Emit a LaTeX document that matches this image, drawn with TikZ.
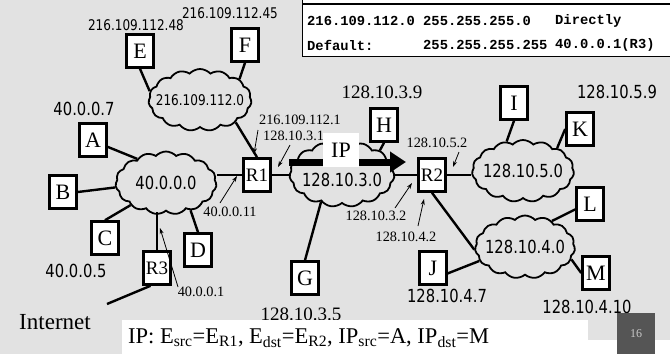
\documentclass[tikz,border=0pt]{standalone}
\usepackage{fontspec}
\setmainfont{Liberation Serif}
\newfontfamily\lblf{DejaVu Sans}[FakeStretch=0.82]
\newfontfamily\monof{Liberation Mono}
\usetikzlibrary{shapes.symbols,arrows.meta}
\definecolor{bgc}{RGB}{226,226,226}
\definecolor{pagebox}{RGB}{85,85,85}
\definecolor{pagetxt}{RGB}{200,200,200}
\tikzset{
  host/.style={draw, line width=2.6pt, fill=white, minimum width=27pt, minimum height=33pt, inner sep=0pt, font=\fontsize{22}{22}\selectfont},
  router/.style={host, font=\fontsize{19}{19}\selectfont},
  net/.style={cloud, cloud puffs=15, cloud puff arc=95, cloud ignores aspect, draw, line width=1.8pt, inner sep=0pt},
  link/.style={line width=2.4pt},
  ptr/.style={line width=0.8pt, -{Stealth[length=6pt,width=4pt]}},
  lab/.style={font=\lblf\fontsize{18}{18}\selectfont, inner sep=0pt},
  labsm/.style={font=\lblf\fontsize{14.7}{15}\selectfont, inner sep=0pt},
  slab/.style={font=\fontsize{14.3}{15}\selectfont, inner sep=0pt},
  mlab/.style={font=\fontsize{19}{19}\selectfont, inner sep=0pt},
  tcell/.style={font=\monof\bfseries\fontsize{13.8}{14}\selectfont, inner sep=0pt, anchor=west},
}
\begin{document}
\begin{tikzpicture}[x=1pt,y=-1pt]
\fill[bgc] (0,0) rectangle (670,354);
\useasboundingbox (0,0) rectangle (670,354);
% routing table (partial)
\draw[fill=white, line width=0.8pt] (302,-5) rectangle (675,56);
\draw[line width=2.4pt] (302,4) -- (670,4);
\node[tcell] (t11) at (307,21) {216.109.112.0};
\node[tcell] (t12) at (423,21) {255.255.255.0};
\node[tcell] (t13) at (555,21) {Directly};
\node[tcell] (t21) at (307,45) {Default:};
\node[tcell] (t22) at (423,45) {255.255.255.255};
\node[tcell] (t23) at (555,45) {40.0.0.1(R3)};
% clouds
\node[net, minimum width=103pt, minimum height=62pt] (n216) at (200,100) {};
\node[net, minimum width=101pt, minimum height=63pt] (n40) at (166,183) {};
\node[net, minimum width=105pt, minimum height=66pt] (n3) at (342,174) {};
\node[net, minimum width=102pt, minimum height=62pt] (n5) at (523,171) {};
\node[net, minimum width=100pt, minimum height=63pt] (n4) at (525,247) {};
\node[labsm] at (n216.center) {216.109.112.0};
\node[lab] at (n40.center) {40.0.0.0};
\node[lab] at ([yshift=-6pt]n3.center) {128.10.3.0};
\node[lab] at (n5.center) {128.10.5.0};
\node[lab] at (n4.center) {128.10.4.0};
% hosts and routers
\node[host] (E) at (140,51) {E};
\node[host] (F) at (245,45) {F};
\node[host] (A) at (93,140) {A};
\node[host] (B) at (63,192) {B};
\node[host] (C) at (105,238) {C};
\node[host] (D) at (198,250) {D};
\node[router] (R3) at (157,268) {R3};
\node[router] (R1) at (257,175) {R1};
\node[router] (R2) at (432,175) {R2};
\node[host] (H) at (384,125) {H};
\node[host] (I) at (514,103) {I};
\node[host] (K) at (580,129) {K};
\node[host] (L) at (590,204) {L};
\node[host] (M) at (596,273) {M};
\node[host] (J) at (433,268) {J};
\node[host] (G) at (305,278) {G};
\coordinate (inet) at (107,304);
% links
\draw[link] (E.south) -- (n216.170);
\draw[link] (F.south) -- (n216.28);
\draw[link] (n216.-32) -- (R1.north);
\draw[link] (A.-25) -- (n40.140);
\draw[link] (B.east) -- (n40.185);
\draw[link] (C.north) -- (n40.212);
\draw[link] (D.north) -- (n40.-48);
\draw[link] (R3.north) -- (R3.north |- n40.south);
\draw[link] (R1.west) -- (R1.west -| n40.east);
\draw[link] (R1.east) -- (R1.east -| n3.west);
\draw[link] (R2.west) -- (R2.west -| n3.east);
\draw[link] (H.south) -- (n3.32);
\draw[link] (G.north) -- (n3.-127);
\draw[link] (R2.east) -- (R2.east -| n5.west);
\draw[link] (R2.south) -- (n4.183);
\draw[link] (I.south) -- (n5.119);
\draw[link] (K.west) -- (n5.34);
\draw[link] (L.-160) -- (n4.44);
\draw[link] (M.west) -- (n4.-15);
\draw[link] (J.-20) -- (n4.197);
\draw[link] (R3.-110) -- (inet);
% address labels
\node[labsm] (l48) at (136,25) {216.109.112.48};
\node[labsm] (l45) at (230,13) {216.109.112.45};
\node[lab] (l7) at (84,109) {40.0.0.7};
\node[lab] (l5) at (76,271) {40.0.0.5};
\node[lab] (l47) at (447,296) {128.10.4.7};
\node[lab] (l410) at (587,307) {128.10.4.10};
\node[lab] (l59) at (617,92) {128.10.5.9};
\node[mlab] (l39) at (382,92) {128.10.3.9};
\node[mlab] (l35) at (301,314) {128.10.3.5};
\node[slab] (l1121) at (300,120) {216.109.112.1};
\node[slab, anchor=west] (l31) at (263,136) {128.10.3.1};
\node[slab] (l011) at (230,212) {40.0.0.11};
\node[slab] (l32) at (376,216) {128.10.3.2};
\node[slab] (l42) at (406,237) {128.10.4.2};
\node[slab] (l52) at (437,143) {128.10.5.2};
\node[slab] (l01) at (201,292) {40.0.0.1};
\node[font=\fontsize{23}{23}\selectfont, inner sep=0pt] (inettxt) at (55,322) {Internet};
% pointer arrows
\coordinate (p1a) at (258,130); \coordinate (p1b) at (254,154);
\coordinate (p2a) at (290,145); \coordinate (p2b) at (278,167);
\coordinate (p3a) at (220,203); \coordinate (p3b) at (237,176);
\coordinate (p4a) at (178,287); \coordinate (p4b) at (160,228);
\coordinate (p5a) at (459,152); \coordinate (p5b) at (453,167);
\coordinate (p6a) at (395,208); \coordinate (p6b) at (412,183);
\coordinate (p7a) at (418,226); \coordinate (p7b) at (424,199);
\draw[ptr] (p1a) -- (p1b);
\draw[ptr] (p2a) -- (p2b);
\draw[ptr] (p3a) -- (p3b);
\draw[ptr] (p4a) -- (p4b);
\draw[ptr] (p5a) -- (p5b);
\draw[ptr] (p6a) -- (p6b);
\draw[ptr] (p7a) -- (p7b);
% IP datagram arrow
\coordinate (ipa) at (289,162);
\coordinate (ipb) at (406,162);
\draw[line width=7pt, -{Triangle[length=16pt,width=20pt]}] (ipa) -- (ipb);
\node[fill=white, minimum width=36pt, minimum height=34pt, inner sep=0pt, font=\fontsize{22}{22}\selectfont] (ip) at (341,150) {IP};
% bottom caption
\fill[white] (588,340) rectangle (670,354);
\node[fill=white, anchor=north west, minimum width=466pt, minimum height=34pt, inner sep=0pt] (capbox) at (122,320) {};
\node[anchor=west, inner sep=0pt, font=\fontsize{22.5}{22.5}\selectfont] (cap) at (128,338)
  {IP: E\textsubscript{src}=E\textsubscript{R1}, E\textsubscript{dst}=E\textsubscript{R2}, IP\textsubscript{src}=A, IP\textsubscript{dst}=M};
\node[fill=pagebox, anchor=north west, minimum width=38pt, minimum height=41pt, inner sep=0pt, text=pagetxt, font=\fontsize{12}{12}\selectfont] (pg) at (617,313) {16};
\end{tikzpicture}
\end{document}
